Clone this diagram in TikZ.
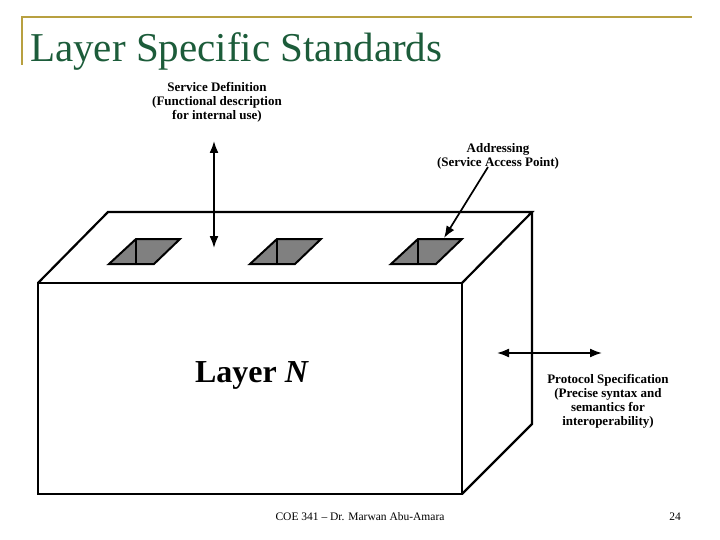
\documentclass[tikz,border=0pt]{standalone}
\usepackage{fontspec}
\setmainfont{Liberation Serif}
\usetikzlibrary{arrows.meta}
\definecolor{titlegreen}{RGB}{28,92,58}
\definecolor{rulegold}{RGB}{184,160,64}
\definecolor{holegray}{RGB}{128,128,128}

\begin{document}
\begin{tikzpicture}[x=1pt,y=-1pt,>={Latex[length=12pt,width=9pt]}]
\tikzstyle{label}=[font=\bfseries\fontsize{13}{14}\selectfont,align=center,inner sep=0pt]
\tikzstyle{edge}=[line width=2.2pt,line join=miter]
\tikzstyle{hole}=[line width=2pt,fill=holegray,line join=miter]
\tikzstyle{arrow}=[line width=1.7pt]
\useasboundingbox (0,0) rectangle (720,540);

% slide frame and title
\draw[rulegold,line width=1.5pt] (22,65) -- (22,17) -- (692,17);
\path (30,62) node[anchor=base west,inner sep=0pt,text=titlegreen,font=\fontsize{41}{41}\selectfont](title){Layer Specific Standards};

% the layer block
\coordinate (ftl) at (38,283);
\coordinate (ftr) at (462,283);
\coordinate (fbr) at (462,494);
\coordinate (fbl) at (38,494);
\coordinate (btl) at (108,212);
\coordinate (btr) at (532,212);
\coordinate (bbr) at (532,424);
\draw[edge] (ftl) -- (ftr) -- (fbr) -- (fbl) -- cycle;
\draw[edge] (ftl) -- (btl) -- (btr) -- (ftr);
\draw[edge] (btr) -- (bbr) -- (fbr);

% access points on top
\foreach \x in {0,141,282}{
  \draw[hole] (109+\x,264) -- (136+\x,239) -- (180+\x,239) -- (154+\x,264) -- cycle;
  \draw[line width=2pt] (136+\x,239) -- (136+\x,264);
}

\path (252,382) node[anchor=base,inner sep=0pt,font=\bfseries\fontsize{32}{32}\selectfont](layer){Layer \textit{N}};

% labels
\path (217,102) node[label](servdef){Service Definition\\(Functional description\\for internal use)};
\path (498,156) node[label](addr){Addressing\\(Service Access Point)};
\path (608,401) node[label](proto){Protocol Specification\\(Precise syntax and\\semantics for\\interoperability)};

% arrows
\coordinate (sdtop) at (214,141);
\coordinate (sdbot) at (214,248);
\draw[arrow,<->] (sdtop) -- (sdbot);
\coordinate (adfrom) at (488,167);
\coordinate (adto) at (444,238);
\draw[arrow,->] (adfrom) -- (adto);
\coordinate (psleft) at (497,353);
\coordinate (psright) at (602,353);
\draw[arrow,<->] (psleft) -- (psright);

% footer
\path (360,517) node[font=\fontsize{11.5}{12}\selectfont](footer){COE 341 -- Dr. Marwan Abu-Amara};
\path (675,517) node[font=\fontsize{11.5}{12}\selectfont](page){24};
\end{tikzpicture}
\end{document}
